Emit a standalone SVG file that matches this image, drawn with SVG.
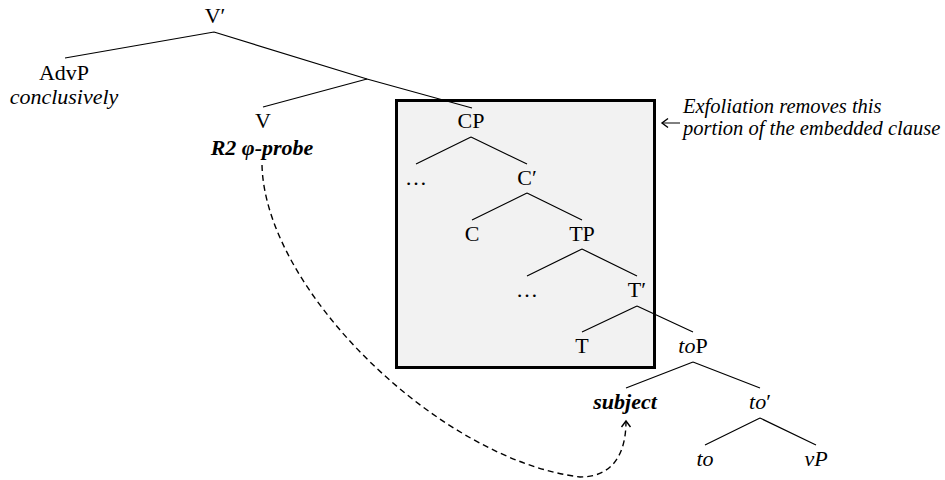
<svg xmlns="http://www.w3.org/2000/svg" width="945" height="480" viewBox="0 0 945 480">
<defs>
<style>
.lbl{font-family:"Liberation Serif","Times New Roman",serif;font-size:22px;fill:#000;text-anchor:middle}
.it{font-style:italic}
.bi{font-style:italic;font-weight:bold}
.note{font-family:"Liberation Serif","Times New Roman",serif;font-size:20.5px;font-style:italic;fill:#000}
.edge{stroke:#000;stroke-width:1.2;fill:none}
</style>
<marker id="chev" viewBox="-8 -6 10 12" markerWidth="10" markerHeight="12" refX="0" refY="0" orient="auto" markerUnits="userSpaceOnUse">
<path d="M-6,-4.5 L0,0 L-6,4.5" fill="none" stroke="#000" stroke-width="1.4"/>
</marker>
</defs>
<rect width="945" height="480" fill="#fff"/>
<g id="box">
<rect x="396.5" y="100.5" width="258" height="267" fill="#f2f2f2" stroke="#000" stroke-width="3"/>
</g>
<g id="connectors">
<path class="edge" d="M214,32 L65,58 M214,32 L367,79"/>
<path class="edge" d="M367,79 L263,107 M367,79 L472,108"/>
<path class="edge" d="M471,137 L416,164 M471,137 L527,164"/>
<path class="edge" d="M527,193 L472,220 M527,193 L582,220"/>
<path class="edge" d="M582,249 L527,276 M582,249 L637,276"/>
<path class="edge" d="M637,306 L582,332 M637,306 L693,332"/>
<path class="edge" d="M693,362 L626,388 M693,362 L760,388"/>
<path class="edge" d="M760,418 L705,445 M760,418 L816,445"/>
<path d="M262,165 C265,290 440,460 580,477 C612,477 626,455 626,421" fill="none" stroke="#000" stroke-width="1.4" stroke-dasharray="6,4" marker-end="url(#chev)"/>
<path d="M680,123 L662,123" fill="none" stroke="#000" stroke-width="1" marker-end="url(#chev)"/>
</g>
<g id="n-vbar"><text class="lbl" x="215" y="23">V′</text></g>
<g id="n-advp"><text class="lbl" x="64" y="80">AdvP</text><text class="lbl it" x="64" y="104">conclusively</text></g>
<g id="n-v"><text class="lbl" x="263" y="128">V</text><text class="lbl bi" x="262" y="155">R2 φ-probe</text></g>
<g id="n-cp"><text class="lbl" x="471" y="128">CP</text></g>
<g id="n-dots1"><text class="lbl" x="416" y="185">…</text></g>
<g id="n-cbar"><text class="lbl" x="527" y="185">C′</text></g>
<g id="n-c"><text class="lbl" x="472" y="241">C</text></g>
<g id="n-tp"><text class="lbl" x="582" y="241">TP</text></g>
<g id="n-dots2"><text class="lbl" x="527" y="297">…</text></g>
<g id="n-tbar"><text class="lbl" x="637" y="297">T′</text></g>
<g id="n-t"><text class="lbl" x="582" y="353">T</text></g>
<g id="n-top"><text class="lbl" x="693" y="353"><tspan class="it">to</tspan>P</text></g>
<g id="n-subject"><text class="lbl bi" x="625" y="409">subject</text></g>
<g id="n-tobar"><text class="lbl" x="760" y="409"><tspan class="it">to</tspan>′</text></g>
<g id="n-to"><text class="lbl it" x="705" y="466">to</text></g>
<g id="n-vp"><text class="lbl it" x="816" y="466">vP</text></g>
<g id="n-note">
<text class="note" x="683" y="113">Exfoliation removes this</text>
<text class="note" x="683" y="135">portion of the embedded clause</text>
</g>
</svg>
